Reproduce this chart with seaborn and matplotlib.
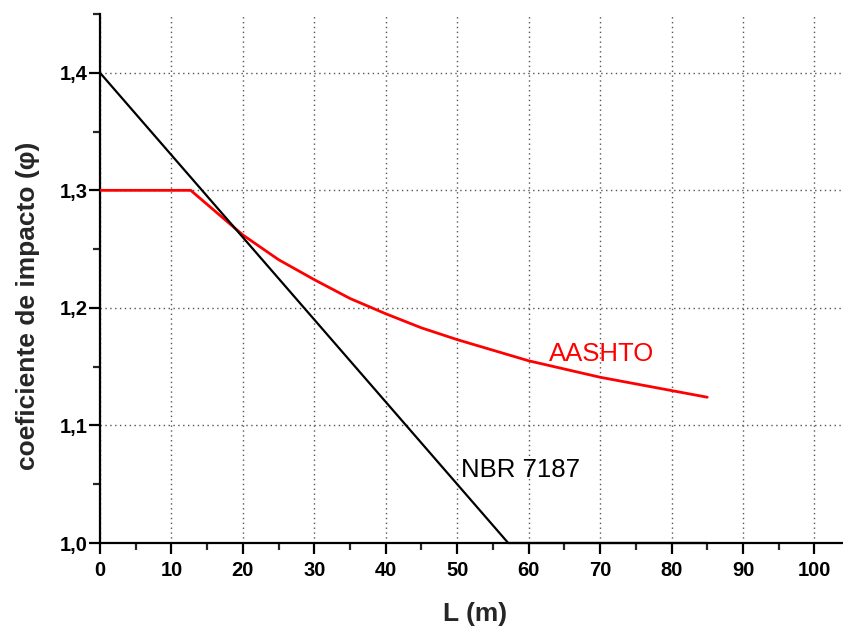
import matplotlib
matplotlib.use("Agg")
import matplotlib.pyplot as plt
import seaborn as sns
import pandas as pd
from matplotlib.ticker import MultipleLocator, FuncFormatter

# Data
nbr_L = [0, 57.14, 85]
nbr_phi = [1.40, 1.00, 1.00]

aashto_L = [0, 12.7, 20, 25, 30, 35, 40, 45, 50, 60, 70, 85]
aashto_phi = [1.300, 1.300, 1.262, 1.241, 1.224, 1.208, 1.195, 1.183, 1.173, 1.155, 1.141, 1.124]

sns.set_style("ticks")
plt.rcParams['font.family'] = ['Liberation Sans', 'DejaVu Sans']

df_nbr = pd.DataFrame({"L": nbr_L, "phi": nbr_phi})
df_aas = pd.DataFrame({"L": aashto_L, "phi": aashto_phi})

fig = plt.figure(figsize=(8.43, 6.28), dpi=100)
ax = fig.add_axes([100/843, 1-543/628, 743/843, 529/628])

sns.lineplot(data=df_aas, x="L", y="phi", ax=ax, color="#ff0000", lw=2.0, sort=False, zorder=3)
sns.lineplot(data=df_nbr, x="L", y="phi", ax=ax, color="black", lw=1.6, sort=False, zorder=4, clip_on=False)

ax.set_xlim(0, 104)
ax.set_ylim(1.0, 1.45)

ax.xaxis.set_major_locator(MultipleLocator(10))
ax.xaxis.set_minor_locator(MultipleLocator(5))
ax.yaxis.set_major_locator(MultipleLocator(0.1))
ax.yaxis.set_minor_locator(MultipleLocator(0.05))
ax.yaxis.set_major_formatter(FuncFormatter(lambda v, p: f"{v:.1f}".replace('.', ',')))

ax.grid(True, which='major', linestyle=(0, (1, 2.5)), color='#555555', lw=1.0)

for s in ['top', 'right']:
    ax.spines[s].set_visible(False)
for s in ['left', 'bottom']:
    ax.spines[s].set_linewidth(1.6)
    ax.spines[s].set_color('black')

ax.tick_params(which='major', direction='out', length=8, width=1.6, labelsize=14.5, colors='black')
ax.tick_params(which='minor', direction='out', length=5, width=1.6)
ax.tick_params(axis='y', which='major', pad=1)
ax.tick_params(axis='x', which='major', pad=5)
for lab in ax.get_xticklabels() + ax.get_yticklabels():
    lab.set_fontweight('bold')

ax.set_xlabel("L (m)", fontsize=19, fontweight='bold')
ax.set_ylabel("coeficiente de impacto (φ)", fontsize=19, fontweight='bold')
ax.xaxis.set_label_coords(0.505, -0.111)
ax.yaxis.set_label_coords(-0.081, 0.448)

ax.text(62.8, 1.155, "AASHTO", color="#ff0000", fontsize=18.5)
ax.text(50.6, 1.056, "NBR 7187", color="black", fontsize=18.5)

fig.savefig("out.png", dpi=100)
